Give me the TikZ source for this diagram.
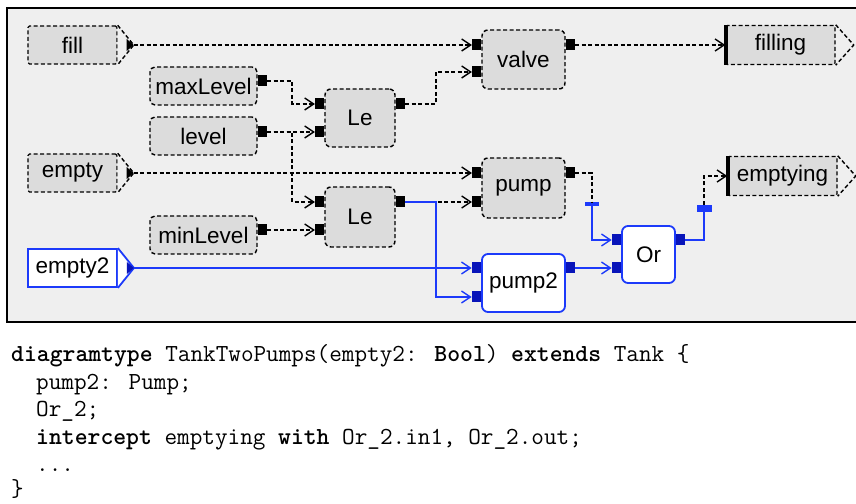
\documentclass[tikz,border=0pt]{standalone}
\usepackage{fontspec}
\setmainfont{Liberation Sans}
\usepackage{tikz}
\usetikzlibrary{positioning, arrows.meta}

\definecolor{panelgray}{RGB}{239,239,239}
\definecolor{blockgray}{RGB}{220,220,220}
\definecolor{wireblue}{RGB}{28,58,250}
\definecolor{portblue}{RGB}{8,20,185}

\begin{document}
\begin{tikzpicture}[x=1pt, y=1pt, font=\fontsize{22.5}{25}\selectfont,
        >={Straight Barb[length=9pt, width=12pt, line width=1.4pt]}]
                \tikzset{
                    wire/.style={dash pattern=on 4pt off 2.5pt, line width=1.4pt},
                    bluewire/.style={wireblue, line width=1.8pt},
                    block/.style={draw, wire, rounded corners=6pt, fill=blockgray, minimum width=83pt, minimum height=59pt, inner sep=0pt},
                    newblock/.style={draw=wireblue, line width=1.8pt, rounded corners=6pt, fill=white, minimum width=83pt, minimum height=58pt, inner sep=0pt},
                    const/.style={draw, wire, rounded corners=5pt, fill=blockgray, minimum width=107pt, minimum height=38pt, inner sep=0pt},
                    inport/.style={draw, wire, rounded corners=1.5pt, fill=blockgray, minimum width=89pt, minimum height=38pt, inner sep=0pt},
                    newinport/.style={draw=wireblue, line width=1.8pt, fill=white, minimum width=89pt, minimum height=38pt, inner sep=0pt},
                    outport/.style={draw, wire, rounded corners=1.5pt, fill=blockgray, minimum width=109pt, minimum height=39pt, inner sep=0pt},
                    port/.style={fill=black, minimum width=9pt, minimum height=11pt, inner sep=0pt},
                    blueport/.style={port, fill=portblue},
                    tick/.style={fill=wireblue, inner sep=0pt},
                    code/.style={font=\ttfamily\fontsize{24.5}{27}\selectfont, inner sep=0pt, anchor=base west}
                }
                \useasboundingbox (0,0) rectangle (856,503);

                % PANEL
                \draw[line width=2pt, fill=panelgray] (7,181) rectangle (862,495);

                % INPUTS
                \node[inport] (fill) at (72.5,458) {fill};
                \node[inport] (empty) at (72.5,330) {empty};
                \node[newinport] (empty2) at (72.5,235) {empty2};
                \coordinate (fillpt) at ([xshift=16pt]fill.east);
                \coordinate (emptypt) at ([xshift=16pt]empty.east);
                \coordinate (empty2pt) at ([xshift=16pt]empty2.east);
                \draw[wire, fill=panelgray] (fill.north east) -- (fillpt) -- (fill.south east);
                \draw[wire, fill=panelgray] (empty.north east) -- (emptypt) -- (empty.south east);
                \draw[wireblue, line width=1.8pt, fill=white] (empty2.north east) -- (empty2pt) -- (empty2.south east);
                \fill (fillpt) -- ++(-7,6) -- ++(0,-12) -- cycle;
                \fill (emptypt) -- ++(-7,6) -- ++(0,-12) -- cycle;
                \fill[portblue] (empty2pt) -- ++(-7,6) -- ++(0,-12) -- cycle;

                % CONSTANTS
                \node[const] (maxLevel) at (203.5,417) {maxLevel};
                \node[const] (level) at (203.5,367) {level};
                \node[const] (minLevel) at (203.5,268) {minLevel};

                % BLOCKS
                \node[block, minimum width=70pt, minimum height=58pt] (le1) at (360,385) {Le};
                \node[block, minimum width=70pt, minimum height=60pt] (le2) at (360,286) {Le};
                \node[block] (valve) at (523.5,443.5) {valve};
                \node[block, minimum height=60pt] (pump) at (523.5,315) {pump};
                \node[newblock] (pump2) at (523.5,220) {pump2};
                \node[newblock, minimum width=53pt, minimum height=57pt] (or) at (648.5,248.5) {Or};

                % OUTPUTS
                \node[outport] (filling) at (780.5,458) {filling};
                \node[outport] (emptying) at (782.5,327) {emptying};
                \draw[wire] (filling.north east) -- ([xshift=18pt]filling.east) -- (filling.south east);
                \draw[wire] (emptying.north east) -- ([xshift=18pt]emptying.east) -- (emptying.south east);
                \draw[line width=4pt] ([xshift=1pt]filling.north west) -- ([xshift=1pt]filling.south west);
                \draw[line width=4pt] ([xshift=1pt]emptying.north west) -- ([xshift=1pt]emptying.south west);

                % PORTS
                \node[port, anchor=west] (maxLevelout) at ([yshift=5pt]maxLevel.east) {};
                \node[port, anchor=west] (levelout) at ([yshift=4pt]level.east) {};
                \node[port, anchor=west] (minLevelout) at ([yshift=5pt]minLevel.east) {};
                \node[port, anchor=east] (le1in1) at ([yshift=14pt]le1.west) {};
                \node[port, anchor=east] (le1in2) at ([yshift=-14pt]le1.west) {};
                \node[port, anchor=west] (le1out) at ([yshift=14pt]le1.east) {};
                \node[port, anchor=east] (le2in1) at ([yshift=15pt]le2.west) {};
                \node[port, anchor=east] (le2in2) at ([yshift=-13pt]le2.west) {};
                \node[port, anchor=west] (le2out) at ([yshift=15pt]le2.east) {};
                \node[port, anchor=east] (valvein1) at ([yshift=14.5pt]valve.west) {};
                \node[port, anchor=east] (valvein2) at ([yshift=-12.5pt]valve.west) {};
                \node[port, anchor=west] (valveout) at ([yshift=14.5pt]valve.east) {};
                \node[port, anchor=east] (pumpin1) at ([yshift=15pt]pump.west) {};
                \node[port, anchor=east] (pumpin2) at ([yshift=-14pt]pump.west) {};
                \node[port, anchor=west] (pumpout) at ([yshift=15pt]pump.east) {};
                \node[blueport, anchor=east] (pump2in1) at ([yshift=15pt]pump2.west) {};
                \node[blueport, anchor=east] (pump2in2) at ([yshift=-14pt]pump2.west) {};
                \node[blueport, anchor=west] (pump2out) at ([yshift=15pt]pump2.east) {};
                \node[blueport, anchor=east] (orin1) at ([yshift=14.5pt]or.west) {};
                \node[blueport, anchor=east] (orin2) at ([yshift=-13.5pt]or.west) {};
                \node[blueport, anchor=west] (orout) at ([yshift=14.5pt]or.east) {};

                % CUTS
                \node[tick, minimum width=14pt, minimum height=4pt] (tick1) at (592,299) {};
                \node[tick, minimum width=15pt, minimum height=7pt] (tick2) at (704,294.5) {};

                % CONNECTIONS
                \draw[wire, ->] (fillpt) -- (valvein1.west);
                \draw[wire, ->] (maxLevelout.east) -- ++(25,0) |- (le1in1.west);
                \draw[wire, ->] (levelout.east) -- (le1in2.west);
                \draw[wire, ->] (levelout.east) -- ++(25,0) |- (le2in1.west);
                \draw[wire, ->] (minLevelout.east) -- (le2in2.west);
                \draw[wire, ->] (le1out.east) -- ++(31,0) |- (valvein2.west);
                \draw[wire, ->] (valveout.east) -- (filling.west);
                \draw[wire, ->] (emptypt) -- (pumpin1.west);
                \draw[wire, ->] (le2out.east) -- (pumpin2.west);
                \draw[bluewire, ->] (le2out.east) -- ++(31,0) |- (pump2in2.west);
                \draw[bluewire, ->] (empty2pt) -- (pump2in1.west);
                \draw[wire] (pumpout.east) -| (tick1.north);
                \draw[bluewire, ->] (tick1.south) |- (orin1.west);
                \draw[bluewire, ->] (pump2out.east) -- (orin2.west);
                \draw[bluewire] (orout.east) -| (tick2.south);
                \draw[wire, ->] (tick2.north) |- (emptying.west);

                % CODE
                \node[code] (line1) at (11,141) {\textbf{diagramtype} TankTwoPumps(empty2: \textbf{Bool}) \textbf{extends} Tank \{};
                \node[code] (line2) at (36,113.5) {pump2: Pump;};
                \node[code] (line3) at (36,86) {Or\_2;};
                \node[code] (line4) at (36,58.5) {\textbf{intercept} emptying \textbf{with} Or\_2.in1, Or\_2.out;};
                \node[code] (line5) at (36,31) {...};
                \node[code] (line6) at (11,7) {\}};

            \end{tikzpicture}
\end{document}
